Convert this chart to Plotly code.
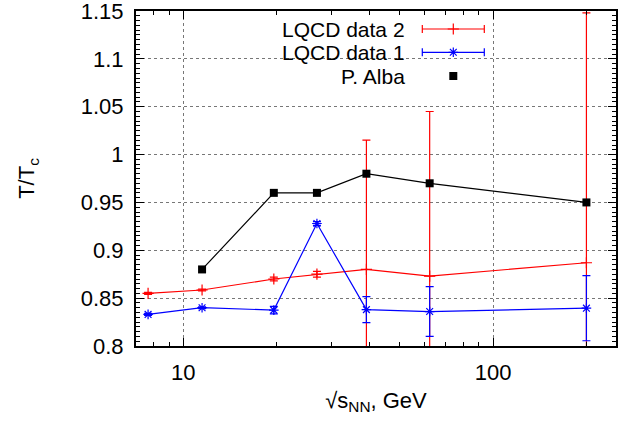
import plotly.graph_objects as go

# ---- data ----
sqrt_s = [7.7, 11.5, 19.6, 27, 39, 62.4, 200]
lqcd2_T = [0.855, 0.8585, 0.870, 0.875, 0.880, 0.873, 0.887]
lqcd2_err = [0.001, 0.001, 0.002, 0.003, 0.135, 0.172, 0.261]
lqcd1_T = [0.833, 0.840, 0.8375, 0.928, 0.838, 0.836, 0.8395]
lqcd1_err = [0.001, 0.001, 0.004, 0.002, 0.0135, 0.026, 0.034]
alba_s = [11.5, 19.6, 27, 39, 62.4, 200]
alba_T = [0.88, 0.96, 0.96, 0.98, 0.97, 0.95]

legend_names = ["LQCD data 2", "LQCD data 1", "P. Alba"]
y_ticks = [0.8, 0.85, 0.9, 0.95, 1.0, 1.05, 1.1, 1.15]
y_ticklabels = ["0.8", "0.85", "0.9", "0.95", "1", "1.05", "1.1", "1.15"]
x_ticks = [10, 100]
x_minor = [8, 9, 20, 30, 40, 50, 60, 70, 80, 90, 200]

RED = "#ff0000"
BLUE = "#0000ff"
FONT = "Liberation Sans, Arial, sans-serif"
FS = 22
LEG_FS = 21

W, H = 626, 423
L, R, T, B = 136, 10, 11, 77
PW, PH = W - L - R, H - T - B

fig = go.Figure()

fig.add_trace(go.Scatter(
    x=sqrt_s, y=lqcd2_T, mode="lines+markers", name=legend_names[0],
    line=dict(color=RED, width=1.2),
    marker=dict(symbol="cross-thin-open", size=8, color=RED, line=dict(color=RED, width=1.2)),
    error_y=dict(type="data", array=lqcd2_err, color=RED, thickness=1.2, width=4),
    showlegend=False))
fig.add_trace(go.Scatter(
    x=sqrt_s, y=lqcd1_T, mode="lines+markers", name=legend_names[1],
    line=dict(color=BLUE, width=1.2),
    marker=dict(symbol="asterisk-open", size=8, color=BLUE, line=dict(color=BLUE, width=1.2)),
    error_y=dict(type="data", array=lqcd1_err, color=BLUE, thickness=1.2, width=4),
    showlegend=False))
fig.add_trace(go.Scatter(
    x=alba_s, y=alba_T, mode="lines+markers", name=legend_names[2],
    line=dict(color="black", width=1.2),
    marker=dict(symbol="square", size=8, color="black"),
    showlegend=False))

# ---- custom legend (text left, key right, gnuplot style) ----
def px_x(p):
    return (p - L) / PW

def px_y(p):
    return (H - B - p) / PH

fig.add_shape(type="rect", xref="paper", yref="paper",
              x0=px_x(253), x1=px_x(498), y0=px_y(88), y1=px_y(17),
              fillcolor="white", line=dict(width=0), layer="between")

leg_rows = [29, 52.3, 76]
key_x = 453.3
key_half = 31
fig.add_trace(go.Scatter(
    x=[key_x], y=[leg_rows[0]], xaxis="x2", yaxis="y2", mode="markers",
    marker=dict(symbol="cross-thin-open", size=8, color=RED, line=dict(color=RED, width=1.2)),
    error_x=dict(type="constant", value=key_half, color=RED, thickness=1.2, width=4),
    showlegend=False, hoverinfo="skip"))
fig.add_trace(go.Scatter(
    x=[key_x], y=[leg_rows[1]], xaxis="x2", yaxis="y2", mode="markers",
    marker=dict(symbol="asterisk-open", size=8, color=BLUE, line=dict(color=BLUE, width=1.2)),
    error_x=dict(type="constant", value=key_half, color=BLUE, thickness=1.2, width=4),
    showlegend=False, hoverinfo="skip"))
fig.add_trace(go.Scatter(
    x=[key_x], y=[leg_rows[2]], xaxis="x2", yaxis="y2", mode="markers",
    marker=dict(symbol="square", size=8, color="black"),
    showlegend=False, hoverinfo="skip"))
for name, yy in zip(legend_names, leg_rows):
    fig.add_annotation(x=px_x(407), y=px_y(yy), xref="paper", yref="paper", text=name,
                       showarrow=False, xanchor="right", yanchor="middle",
                       font=dict(family=FONT, size=LEG_FS, color="black"))

fig.update_layout(
    width=W, height=H,
    margin=dict(l=L, r=R, t=T, b=B, pad=0, autoexpand=False),
    paper_bgcolor="white", plot_bgcolor="white",
    font=dict(family=FONT, size=FS, color="black"),
    xaxis=dict(
        type="log", range=[0.8475, 2.3965], automargin=False,
        tickvals=x_ticks, ticktext=[str(v) for v in x_ticks],
        ticks="inside", ticklen=8, tickwidth=1, tickcolor="black",
        showline=True, linecolor="black", linewidth=2, mirror="allticks",
        showgrid=True, gridcolor="#777777", griddash="dot", gridwidth=1,
        zeroline=False, ticklabelstandoff=6, ticklabeloverflow="allow",
        minor=dict(tickvals=x_minor, ticks="inside", ticklen=4, tickcolor="black", showgrid=False),
        title=dict(text="√s<sub>NN</sub>, GeV", font=dict(size=FS), standoff=8),
        tickfont=dict(size=FS),
    ),
    yaxis=dict(
        range=[0.8, 1.15], automargin=False,
        tickvals=y_ticks, ticktext=y_ticklabels,
        ticks="inside", ticklen=8, tickwidth=1, tickcolor="black",
        showline=True, linecolor="black", linewidth=2, mirror="allticks",
        showgrid=True, gridcolor="#777777", griddash="dot", gridwidth=1,
        zeroline=False, ticklabelstandoff=6, ticklabeloverflow="allow",
        minor=dict(dtick=0.005, ticks="inside", ticklen=4, tickcolor="black", showgrid=False),
        title=dict(text="T/T<sub>c</sub>", font=dict(size=FS), standoff=40),
        tickfont=dict(size=FS),
    ),
    xaxis2=dict(overlaying="x", anchor="y2", range=[L, W - R], visible=False),
    yaxis2=dict(overlaying="y", anchor="x2", range=[H - B, T], visible=False),
)

fig.write_html("out.html")
